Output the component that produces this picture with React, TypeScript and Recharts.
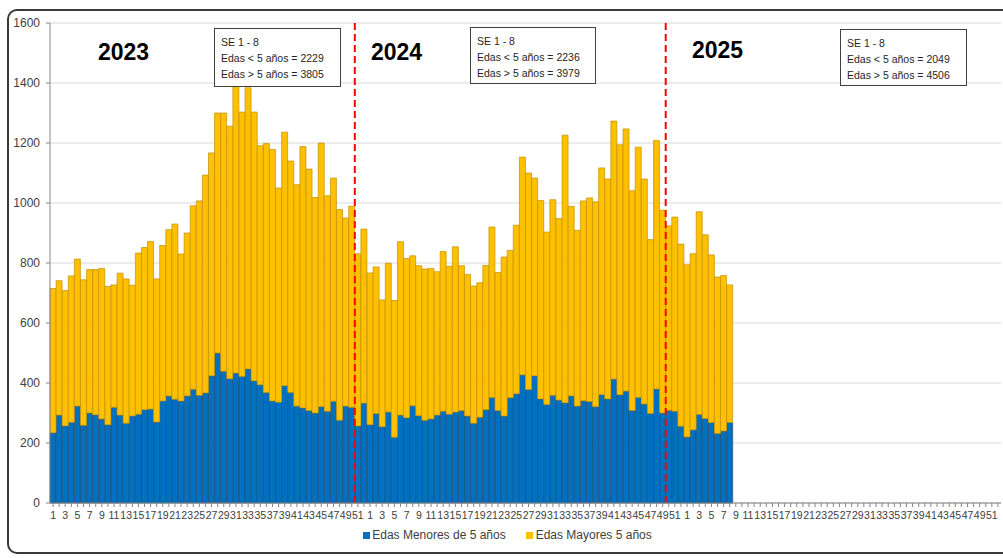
import React from 'react';
import { BarChart, Bar, XAxis, YAxis, CartesianGrid, ReferenceLine, Legend } from 'recharts';

const years = [2023, 2024, 2025];
const weeksPerYear = 52;
const yTicks = [0, 200, 400, 600, 800, 1000, 1200, 1400, 1600];

const menores2023 = [234, 293, 257, 269, 323, 259, 300, 294, 280, 261, 319, 293, 266, 290, 296, 311, 313, 270, 340, 357, 346, 340, 357, 379, 359, 367, 424, 500, 439, 414, 433, 422, 447, 407, 394, 368, 340, 336, 391, 368, 323, 317, 308, 300, 321, 306, 339, 276, 323, 319, 257, 333];
const mayores2023 = [481, 448, 451, 488, 490, 485, 478, 484, 502, 461, 408, 473, 481, 436, 537, 541, 559, 477, 518, 554, 584, 490, 543, 612, 648, 726, 743, 800, 861, 842, 962, 881, 937, 896, 797, 830, 838, 714, 845, 772, 738, 871, 805, 718, 879, 718, 744, 702, 627, 670, 574, 580];

const menores2024 = [261, 298, 254, 303, 219, 293, 284, 324, 291, 276, 280, 293, 306, 296, 303, 308, 290, 266, 286, 311, 352, 308, 290, 351, 364, 427, 378, 424, 347, 328, 359, 343, 334, 357, 323, 341, 338, 321, 361, 347, 413, 361, 373, 308, 352, 330, 298, 380, 300, 309, 306, 256];
const mayores2024 = [506, 489, 423, 496, 456, 578, 531, 500, 500, 504, 502, 478, 532, 493, 551, 483, 472, 457, 448, 481, 568, 460, 530, 491, 562, 726, 722, 659, 661, 575, 652, 605, 892, 632, 586, 666, 679, 683, 756, 733, 860, 833, 874, 733, 834, 750, 580, 828, 676, 615, 647, 607];

const menores2025 = [220, 244, 295, 282, 268, 232, 240, 268];
const mayores2025 = [574, 587, 676, 612, 559, 521, 518, 459];

const menoresByYear = [menores2023, menores2024, menores2025];
const mayoresByYear = [mayores2023, mayores2024, mayores2025];

const yearLabels = ['2023', '2024', '2025'];
const boxTitles = ['SE 1 - 8', 'SE 1 - 8', 'SE 1 - 8'];
const boxMenores = ['Edas < 5 años = 2229', 'Edas < 5 años = 2236', 'Edas < 5 años = 2049'];
const boxMayores = ['Edas > 5 años = 3805', 'Edas > 5 años = 3979', 'Edas > 5 años = 4506'];
const separators = ['2023-51', '2024-50'];

const data: any[] = [];
years.forEach((y, yi) => {
  for (let w = 1; w <= weeksPerYear; w++) {
    data.push({
      cat: `${y}-${w}`,
      week: w,
      menores: menoresByYear[yi][w - 1],
      mayores: mayoresByYear[yi][w - 1],
    });
  }
});

const BLUE = '#0070C0';
const YELLOW = '#FFC000';
const FONT = '"Liberation Sans", Arial, sans-serif';

const yearPos = [
  { left: 98, top: 40 },
  { left: 371, top: 40 },
  { left: 692, top: 38 },
];
const boxPos = [
  { left: 214, top: 28, width: 127, height: 59 },
  { left: 470, top: 27, width: 126, height: 57 },
  { left: 840, top: 29, width: 127, height: 57 },
];

const LegendContent = () => (
  <div style={{ display: 'flex', justifyContent: 'center', alignItems: 'center', fontFamily: FONT, fontSize: 12, color: '#404040', paddingLeft: 6 }}>
    <span style={{ display: 'inline-block', width: 7, height: 7, background: BLUE, marginRight: 2 }} />
    <span style={{ marginRight: 20 }}>Edas Menores de 5 años</span>
    <span style={{ display: 'inline-block', width: 7, height: 7, background: YELLOW, marginRight: 3 }} />
    <span>Edas Mayores 5 años</span>
  </div>
);

export default function App() {
  return (
    <div style={{ position: 'absolute', left: 0, top: 0, width: 1003, height: 558, overflow: 'hidden', background: '#fff' }}>
      <div style={{ position: 'absolute', left: 7, top: 9, width: 1020, height: 545, border: '2px solid #3a3a3a', borderRadius: 10, boxSizing: 'border-box' }} />
      <div style={{ position: 'absolute', left: 0, top: 0 }}>
        <BarChart
          width={1003}
          height={558}
          data={data}
          margin={{ top: 23, right: 2, left: 8, bottom: 0 }}
          barCategoryGap={0}
          barGap={0}
        >
          <CartesianGrid vertical={false} stroke="#D9D9D9" />
          <XAxis
            dataKey="cat"
            interval={0}
            height={25}
            tickSize={4}
            tickMargin={5}
            stroke="#868686"
            tick={{ fontSize: 10.5, fill: '#404040', fontFamily: FONT }}
            tickFormatter={(v: string) => {
              const w = Number(String(v).split('-')[1]);
              return w % 2 === 1 ? String(w) : '';
            }}
          />
          <YAxis
            width={42}
            domain={[0, 1600]}
            ticks={yTicks}
            tickSize={4}
            tickMargin={6}
            stroke="#868686"
            tick={{ fontSize: 12, fill: '#404040', fontFamily: FONT }}
          />
          <Legend verticalAlign="bottom" height={30} content={<LegendContent />} />
          <Bar dataKey="menores" stackId="a" fill={BLUE} stroke="#1F4E79" strokeWidth={0.7} isAnimationActive={false} name="Edas Menores de 5 años" />
          <Bar dataKey="mayores" stackId="a" fill={YELLOW} stroke="#C09000" strokeWidth={0.7} isAnimationActive={false} name="Edas Mayores 5 años" />
          {separators.map((s) => (
            <ReferenceLine key={s} x={s} position="start" stroke="#FF0000" strokeWidth={2} strokeDasharray="7 4" />
          ))}
        </BarChart>
      </div>
      {yearLabels.map((t, i) => (
        <div key={t} style={{ position: 'absolute', left: yearPos[i].left, top: yearPos[i].top, fontFamily: FONT, fontWeight: 'bold', fontSize: 23, color: '#000', lineHeight: '24px' }}>
          {t}
        </div>
      ))}
      {boxTitles.map((t, i) => (
        <div
          key={i}
          style={{
            position: 'absolute',
            left: boxPos[i].left,
            top: boxPos[i].top,
            width: boxPos[i].width,
            height: boxPos[i].height,
            border: '1px solid #404040',
            background: '#fff',
            boxSizing: 'border-box',
            padding: '5px 0 0 6px',
            fontFamily: FONT,
            fontSize: 10.5,
            lineHeight: '16px',
            color: '#262626',
          }}
        >
          <div>{t}</div>
          <div>{boxMenores[i]}</div>
          <div>{boxMayores[i]}</div>
        </div>
      ))}
    </div>
  );
}
